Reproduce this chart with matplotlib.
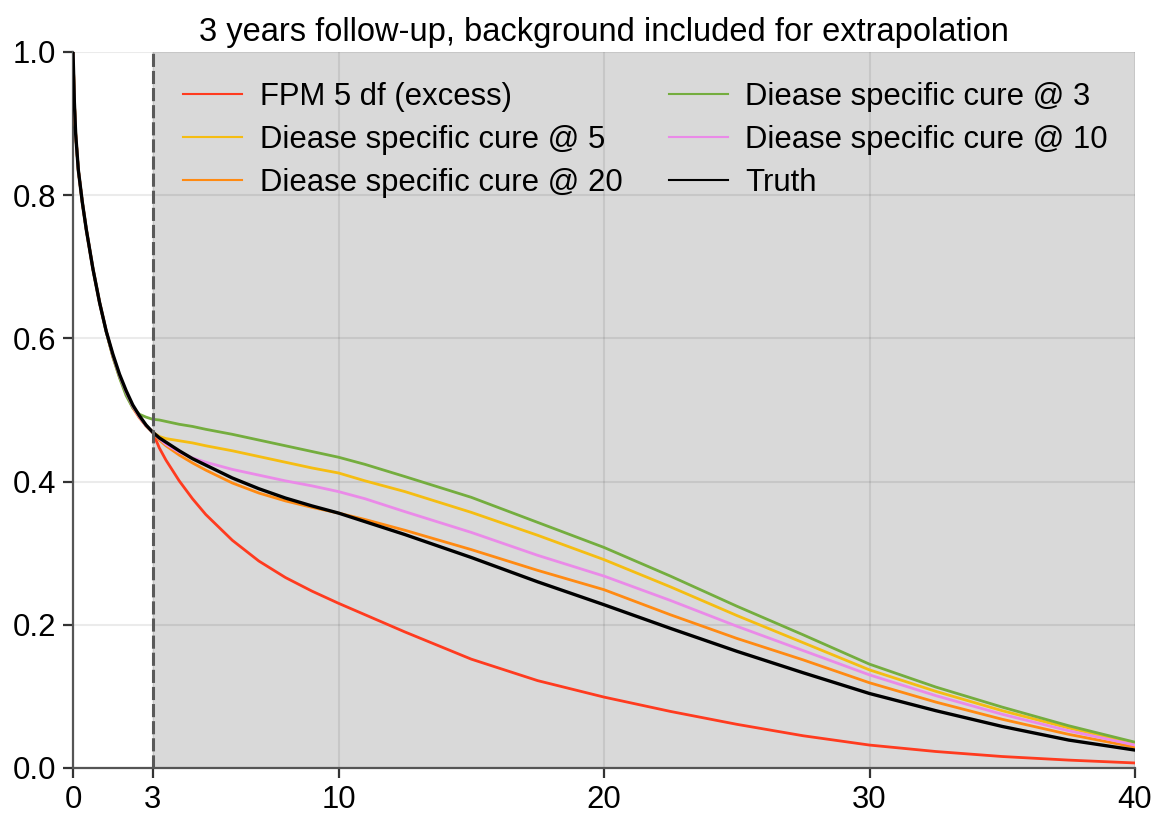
import matplotlib
matplotlib.use("Agg")
import matplotlib.pyplot as plt

plt.rcParams['font.family'] = ['Liberation Sans', 'DejaVu Sans']

# Follow-up time (years)
time = [0, 0.05, 0.1, 0.2, 0.35, 0.5, 0.75, 1.0, 1.25, 1.5, 1.75, 2.0, 2.25, 2.5, 2.75,
        3.0, 3.25, 3.5, 4, 4.5, 5, 6, 7, 8, 9, 10, 11, 12.5, 15, 17.5, 20, 22.5,
        25, 27.5, 30, 32.5, 35, 37.5, 40]

# Early part (0-3 years) shared by the fitted models
early = [1.0, 0.93, 0.885, 0.835, 0.79, 0.752, 0.697, 0.650, 0.610, 0.576, 0.548,
         0.525, 0.505, 0.490, 0.478]

fpm_excess = early + [0.469, 0.447, 0.430, 0.401, 0.376, 0.354, 0.318, 0.289, 0.266,
                      0.247, 0.230, 0.214, 0.190, 0.152, 0.122, 0.099, 0.079, 0.061,
                      0.045, 0.032, 0.023, 0.016, 0.011, 0.007]

cure_5 = early + [0.469, 0.463, 0.460, 0.457, 0.454, 0.450, 0.443, 0.435, 0.427,
                  0.419, 0.412, 0.401, 0.386, 0.357, 0.325, 0.291, 0.253, 0.213,
                  0.175, 0.137, 0.107, 0.080, 0.056, 0.034]

cure_20 = [1.0, 0.93, 0.885, 0.835, 0.79, 0.752, 0.697, 0.650, 0.610, 0.574, 0.546,
           0.523, 0.503, 0.489, 0.478,
           0.469, 0.458, 0.450, 0.437, 0.426, 0.416, 0.398, 0.384, 0.373, 0.364,
           0.356, 0.347, 0.332, 0.305, 0.276, 0.249, 0.214, 0.181, 0.151, 0.119,
           0.092, 0.068, 0.047, 0.029]

cure_3 = [1.0, 0.93, 0.885, 0.835, 0.79, 0.752, 0.697, 0.650, 0.609, 0.574, 0.545,
          0.520, 0.503, 0.494, 0.490,
          0.487, 0.486, 0.484, 0.480, 0.477, 0.473, 0.466, 0.458, 0.450, 0.442,
          0.434, 0.424, 0.407, 0.378, 0.343, 0.308, 0.268, 0.226, 0.186, 0.145,
          0.113, 0.085, 0.059, 0.036]

cure_10 = early + [0.469, 0.460, 0.452, 0.441, 0.433, 0.427, 0.417, 0.409, 0.401,
                   0.394, 0.386, 0.376, 0.358, 0.329, 0.297, 0.268, 0.234, 0.198,
                   0.164, 0.130, 0.101, 0.075, 0.052, 0.032]

truth = [1.0, 0.93, 0.885, 0.835, 0.79, 0.752, 0.697, 0.650, 0.610, 0.578, 0.550,
         0.527, 0.507, 0.492, 0.479,
         0.469, 0.461, 0.455, 0.443, 0.432, 0.423, 0.405, 0.390, 0.377, 0.366,
         0.356, 0.344, 0.326, 0.294, 0.260, 0.228, 0.195, 0.163, 0.133, 0.104,
         0.080, 0.058, 0.039, 0.025]

followup = 3
x_ticks = [0, 3, 10, 20, 30, 40]
y_ticks = [0.0, 0.2, 0.4, 0.6, 0.8, 1.0]

series = [
    ("FPM 5 df (excess)", fpm_excess, "#ff3b1f", 2.0),
    ("Diease specific cure @ 5", cure_5, "#f5bd12", 2.0),
    ("Diease specific cure @ 20", cure_20, "#ff8a12", 2.0),
    ("Diease specific cure @ 3", cure_3, "#74ad3e", 2.0),
    ("Diease specific cure @ 10", cure_10, "#ea8ae8", 2.0),
    ("Truth", truth, "#000000", 2.4),
]

FS = 22.4

fig = plt.figure(figsize=(11.61, 8.17), dpi=100)
ax = fig.add_axes([0.0629, 0.06, 0.9147, 0.8764])

# Extrapolation region beyond the follow-up
ax.axvspan(followup, 40, color="#d9d9d9", zorder=0, lw=0)
ax.set_axisbelow(True)
ax.grid(True, color="black", alpha=0.08, lw=1.5)

handles = []
for label, vals, col, lw in series:
    h, = ax.plot(time, vals, color=col, lw=lw, label=label, zorder=3,
                 solid_joinstyle="round")
    handles.append(h)

ax.axvline(followup, color="#5a5a5a", lw=2.2, linestyle=(0, (4.3, 1.3)), zorder=4)

ax.set_xlim(0, 40)
ax.set_ylim(0, 1)
ax.set_xticks(x_ticks)
ax.set_xticklabels([str(v) for v in x_ticks])
ax.set_yticks(y_ticks)
ax.set_yticklabels([f"{v:.1f}" for v in y_ticks])

for side in ("top", "right"):
    ax.spines[side].set_visible(False)
for side in ("left", "bottom"):
    ax.spines[side].set_color("#555555")
    ax.spines[side].set_linewidth(1.6)

ax.tick_params(axis="both", direction="out", length=7, width=1.6, color="#333333",
               labelsize=FS, labelcolor="black", pad=5)

ax.set_title("3 years follow-up, background included for extrapolation",
             fontsize=23.5, pad=8)

leg = ax.legend(handles=handles, ncol=2, loc="upper left", bbox_to_anchor=(0.076, 1.0),
                frameon=False, fontsize=FS, handlelength=1.9, handletextpad=0.55,
                labelspacing=0.42, columnspacing=1.5, borderpad=0.45)
for line in leg.get_lines():
    line.set_linewidth(1.5)

fig.savefig("out.png", dpi=100)
